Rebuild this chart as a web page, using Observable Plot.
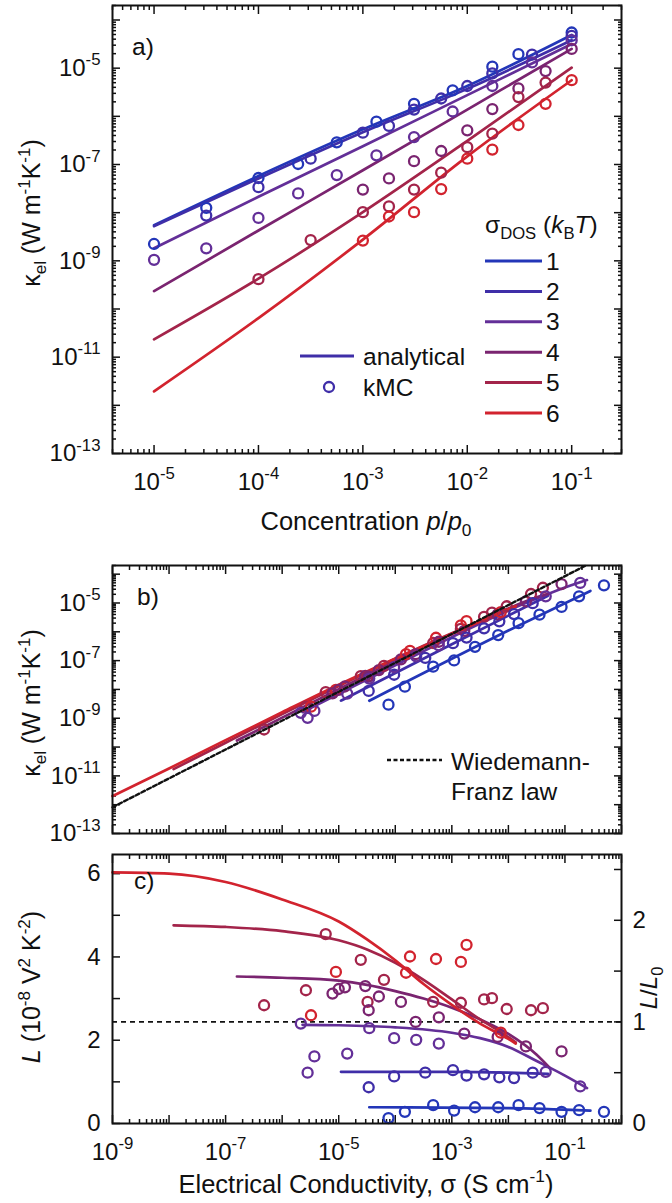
<!DOCTYPE html>
<html><head><meta charset="utf-8">
<script src="https://cdn.jsdelivr.net/npm/d3@7"></script>
<script src="https://cdn.jsdelivr.net/npm/@observablehq/plot@0.6"></script>
<style>
body{margin:0;background:#fff;}
#wrap{position:relative;width:672px;height:1203px;overflow:hidden;}
#wrap svg{position:absolute;left:0;}
</style></head><body><div id="wrap"></div>
<script>
const FONT = '"Liberation Sans", Arial, Helvetica, sans-serif';
const seriesIds = [1, 2, 3, 4, 5, 6];
const seriesColors = ["#2336b8", "#3f2ea8", "#632f98", "#7a2470", "#a3244a", "#d2232e"];

// ---------- panel a : kappa vs concentration ----------
const aLineLogP = [-5, -4, -3, -2, -1];
const aLineLogK = [
  [-8.26, -7.24, -6.27, -5.37, -4.31],
  [-8.28, -7.29, -6.33, -5.43, -4.42],
  [-8.74, -7.67, -6.62, -5.56, -4.50],
  [-9.63, -8.37, -7.12, -5.86, -4.60],
  [-10.63, -9.37, -7.99, -6.51, -4.99],
  [-11.71, -10.19, -8.56, -6.83, -5.25]
];
const aPtSeries = [1,1,1,1,1,1,1,1,1,1,1, 2,2,2,2,2,2,2,2,2,2,2, 3,3,3,3,3,3,3,3,3,3,3, 4,4,4,4,4,4,4,4,4, 5,5,5,5,5,5,5,5,5,5, 6,6,6,6,6,6,6,6,6];
const aPtLogP = [
  -5.0,-4.5,-4.0,-3.62,-3.25,-2.87,-2.51,-2.14,-1.76,-1.51,-1.0,
  -4.5,-4.0,-3.5,-3.0,-2.75,-2.51,-2.25,-2.0,-1.76,-1.38,-1.0,
  -5.0,-4.5,-4.0,-3.62,-3.25,-2.87,-2.51,-2.14,-1.76,-1.38,-1.0,
  -3.0,-2.75,-2.51,-2.25,-2.0,-1.76,-1.51,-1.25,-1.0,
  -4.0,-3.5,-3.0,-2.75,-2.51,-2.25,-2.0,-1.76,-1.51,-1.25,
  -3.0,-2.75,-2.51,-2.25,-2.0,-1.76,-1.51,-1.25,-1.0
];
const aPtLogK = [
  -8.65,-7.90,-7.28,-6.99,-6.54,-6.11,-5.74,-5.46,-4.97,-4.71,-4.26,
  -8.06,-7.47,-6.88,-6.34,-6.20,-5.86,-5.63,-5.37,-5.11,-4.72,-4.33,
  -8.98,-8.74,-8.11,-7.60,-7.22,-6.81,-6.43,-5.90,-5.37,-4.88,-4.42,
  -7.52,-7.29,-6.93,-6.72,-6.29,-5.85,-5.42,-5.06,-4.60,
  -9.38,-8.57,-7.99,-7.87,-7.52,-7.17,-6.64,-6.36,-5.60,-5.30,
  -8.58,-8.08,-7.99,-7.51,-6.88,-6.69,-6.18,-5.74,-5.25
];

// ---------- panels b and c : vs electrical conductivity ----------
const lineLogSigma = [
  [-4.46, -2, -0.55],
  [-4.96, -3, -2, -1.3],
  [-5.64, -5, -4, -3, -2.5, -2, -1.5, -1, -0.61],
  [-6.8, -6, -5, -4.5, -4, -3.5, -3, -2.5, -2, -1.5, -1.28],
  [-7.92, -7, -6, -5, -4.5, -4, -3.5, -3, -2.5, -2.14, -1.87],
  [-9, -8, -7, -6, -5, -4.5, -4, -3.5, -3, -2.5, -2, -1.87]
];
const cLineL = [
  [0.39, 0.37, 0.31],
  [1.24, 1.24, 1.22, 1.19],
  [2.37, 2.36, 2.31, 2.18, 2.05, 1.84, 1.5, 1.15, 0.85],
  [3.53, 3.5, 3.43, 3.33, 3.18, 3.0, 2.78, 2.5, 2.15, 1.65, 1.35],
  [4.76, 4.72, 4.62, 4.4, 4.18, 3.86, 3.45, 2.98, 2.5, 2.2, 1.95],
  [6.03, 6.0, 5.8, 5.38, 4.85, 4.42, 3.92, 3.35, 2.85, 2.4, 2.03, 1.92]
];
const bLineLogK = [
  [-8.392, -5.955, -4.582],
  [-8.39, -6.43, -5.437, -4.747],
  [-8.788, -8.15, -7.159, -6.185, -5.711, -5.258, -4.847, -4.462, -4.204],
  [-9.775, -8.979, -7.988, -7.501, -7.021, -6.546, -6.079, -5.625, -5.191, -4.806, -4.673],
  [-10.765, -9.849, -8.858, -7.88, -7.402, -6.936, -6.485, -6.049, -5.625, -5.321, -5.103],
  [-11.70, -10.745, -9.76, -8.792, -7.837, -7.378, -6.93, -6.498, -6.068, -5.643, -5.216, -5.11]
];
const kmcSeries = [5,5,6,3,3,3,5,6,4,4,4,3,5,4,5,4,3,2,4,5,1,2,3,4,6,1,6,4,3,2,5,1,6,4,3,2,1,6,5,4,2,6,1,5,2,5,4,2,1,6,5,2,1,4,5,2,1,5,3,4,1,1,3,1];
const kmcLogSigma = [-6.32,-5.58,-5.49,-5.67,-5.55,-5.43,-5.23,-5.05,-5.11,-5.0,-4.89,-4.85,-4.61,-4.53,-4.49,-4.47,-4.46,-4.47,-4.29,-4.2,-4.12,-4.02,-4.02,-3.9,-3.81,-3.83,-3.74,-3.64,-3.63,-3.47,-3.33,-3.33,-3.28,-3.23,-3.23,-2.98,-2.96,-2.84,-2.84,-2.78,-2.74,-2.74,-2.59,-2.43,-2.43,-2.29,-2.19,-2.16,-2.18,-2.135,-2.03,-1.9,-1.82,-1.69,-1.6,-1.57,-1.45,-1.39,-1.34,-1.06,-1.06,-0.75,-0.73,-0.31];
const kmcL = [2.84,3.20,2.60,2.40,1.22,1.61,4.55,3.64,3.12,3.23,3.27,1.68,3.93,3.30,2.92,2.72,2.29,0.87,3.05,3.45,0.13,1.13,2.05,2.92,3.62,0.28,4.01,2.44,2.01,1.22,2.92,0.44,3.95,2.55,1.92,1.28,0.31,3.88,2.90,2.16,1.15,4.29,0.39,2.98,1.18,3.01,2.08,1.11,0.39,2.18,2.75,1.09,0.44,1.85,2.72,1.22,0.37,2.77,1.24,1.73,0.28,0.32,0.89,0.28];
const kmcLogK = [-9.39,-8.598,-8.598,-8.813,-8.987,-8.746,-8.095,-8.012,-8.139,-8.014,-7.898,-8.148,-7.539,-7.534,-7.548,-7.558,-7.623,-8.053,-7.329,-7.185,-8.529,-7.49,-7.231,-6.958,-6.774,-7.906,-6.66,-6.776,-6.85,-6.907,-6.388,-7.21,-6.206,-6.346,-6.47,-6.396,-6.992,-5.774,-5.901,-5.969,-6.202,-5.631,-6.522,-5.479,-5.881,-5.334,-5.395,-5.638,-6.112,-5.32,-5.114,-5.386,-5.70,-4.946,-4.688,-5.007,-5.405,-4.471,-4.77,-4.345,-5.136,-4.768,-4.304,-4.386];
const wfLogSigma = [-9, -0.632];
const wfLogK = [-12.09, -3.70];
const L0 = 2.44;

// tick labels
const pLabelExp = [-5, -4, -3, -2, -1];
const kLabelExp = [-13, -11, -9, -7, -5];
const sLabelExp = [-9, -7, -5, -3, -1];
const lLeftTicks = [0, 1, 2, 3, 4, 5, 6];
const lLeftLabels = [0, 2, 4, 6];
const ratioTicks = [0, 0.5, 1, 1.5, 2, 2.5];
const ratioLabels = [0, 1, 2];

// ---------- helpers ----------
const TICK_FS = 24, TITLE_FS = 25.5, LEG_FS = 24.5;
const color = {type: "ordinal", domain: seriesIds, range: seriesColors};
function decades(lo, hi) { const out = []; for (let e = Math.round(Math.log10(lo)); e <= Math.round(Math.log10(hi)); e++) { const v = +("1e" + e); if (v >= lo * 0.999 && v <= hi * 1.001) out.push(v); } return out; }
function minors(lo, hi) { const out = []; for (let e = Math.floor(Math.log10(lo)) ; e <= Math.floor(Math.log10(hi)); e++) for (let k = 2; k <= 9; k++) { const v = +(k + "e" + e); if (v >= lo * 0.999 && v <= hi * 1.001) out.push(v); } return out; }
const expFmt = (set) => (d) => { const e = Math.round(Math.log10(d)); return set.includes(e) ? "10^" + e : ""; };
const none = () => "";
function boxAxes(o) {
  const base = {label: null, strokeWidth: 1.5, fontSize: TICK_FS};
  const m = [];
  m.push(Plot.axisX({...base, anchor: "bottom", ticks: o.xMajor, tickSize: -8, tickPadding: 27, tickFormat: o.xFmt || none}));
  if (o.xMinor) m.push(Plot.axisX({...base, anchor: "bottom", ticks: o.xMinor, tickSize: -4, tickFormat: none}));
  m.push(Plot.axisX({...base, anchor: "top", ticks: o.xMajor, tickSize: -8, tickFormat: none}));
  if (o.xMinor) m.push(Plot.axisX({...base, anchor: "top", ticks: o.xMinor, tickSize: -4, tickFormat: none}));
  m.push(Plot.axisY({...base, anchor: "left", ticks: o.yMajor, tickSize: -8, tickPadding: 20, tickFormat: o.yFmt || none}));
  if (o.yMinor) m.push(Plot.axisY({...base, anchor: "left", ticks: o.yMinor, tickSize: -4, tickFormat: none}));
  if (o.yRight !== false) {
    m.push(Plot.axisY({...base, anchor: "right", ticks: o.yMajor, tickSize: -8, tickFormat: none}));
    if (o.yMinor) m.push(Plot.axisY({...base, anchor: "right", ticks: o.yMinor, tickSize: -4, tickFormat: none}));
  }
  return m;
}
function supTicks(svg, size) {
  d3.select(svg).selectAll("text").each(function () {
    const m = /^10\^(-?\d+)$/.exec(this.textContent);
    if (!m) return;
    const t = d3.select(this); t.text(null);
    t.append("tspan").text("10");
    t.append("tspan").attr("dy", -0.44 * size).attr("font-size", size * 0.7).text(m[1]);
  });
}
function richText(svg, top, x, y, segs, opt = {}) {
  const size = opt.size || LEG_FS;
  const t = d3.select(svg).append("text").attr("font-size", size).attr("font-family", FONT)
    .attr("fill", "#111").attr("text-anchor", opt.anchor || "start");
  if (opt.rotate) t.attr("transform", `translate(${x},${y - top}) rotate(${opt.rotate})`);
  else t.attr("x", x).attr("y", y - top);
  let shift = 0;
  for (const s of segs) {
    const seg = typeof s === "string" ? {t: s} : s;
    const target = seg.sup ? -0.42 * size : seg.sub ? 0.24 * size : 0;
    const ts = t.append("tspan").text(seg.t);
    if (target !== shift) { ts.attr("dy", target - shift); shift = target; }
    if (seg.sup || seg.sub) ts.attr("font-size", size * 0.68);
    if (seg.it) ts.attr("font-style", "italic");
  }
  return t;
}
const wrap = document.getElementById("wrap");
function place(svg, top) { svg.style.top = top + "px"; svg.style.background = "transparent"; wrap.appendChild(svg); supTicks(svg, TICK_FS); return svg; }

// ---------- build tables ----------
const aLines = aLineLogK.flatMap((row, i) => row.map((k, j) => ({s: seriesIds[i], p: 10 ** aLineLogP[j], k: 10 ** k})));
const aPts = aPtSeries.map((s, i) => ({s, p: 10 ** aPtLogP[i], k: 10 ** aPtLogK[i]}));
const bLines = bLineLogK.flatMap((row, i) => row.map((k, j) => ({s: seriesIds[i], sg: 10 ** lineLogSigma[i][j], k: 10 ** k})));
const cLines = cLineL.flatMap((row, i) => row.map((L, j) => ({s: seriesIds[i], sg: 10 ** lineLogSigma[i][j], L})));
const kmc = kmcSeries.map((s, i) => ({s, sg: 10 ** kmcLogSigma[i], L: kmcL[i], k: 10 ** kmcLogK[i]}));
const wf = wfLogSigma.map((s, i) => ({sg: 10 ** s, k: 10 ** wfLogK[i]}));

const lineOpts = {stroke: "s", z: "s", strokeWidth: 2.7, curve: "monotone-x"};
const dotOpts = {stroke: "s", r: 5, strokeWidth: 2.3, fill: "none"};

// ---------- panel a ----------
const aX = [4e-6, 0.3], kY = [1e-13, 2e-4];
const svgA = Plot.plot({
  width: 672, height: 540, marginLeft: 112, marginRight: 51, marginTop: 5, marginBottom: 87,
  style: {fontFamily: FONT, color: "#111"},
  x: {type: "log", domain: aX}, y: {type: "log", domain: kY}, color,
  marks: [
    ...boxAxes({xMajor: decades(...aX), xMinor: minors(...aX), yMajor: decades(...kY), yMinor: minors(...kY), xFmt: expFmt(pLabelExp), yFmt: expFmt(kLabelExp)}),
    Plot.line(aLines, {x: "p", y: "k", ...lineOpts}),
    Plot.dot(aPts, {x: "p", y: "k", ...dotOpts}),
    Plot.frame({stroke: "#111", strokeWidth: 2})
  ]
});
place(svgA, 0);
richText(svgA, 0, 132, 55, ["a)"]);
richText(svgA, 0, 40, 213, ["κ", {t: "el", sub: 1}, " (W m", {t: "-1", sup: 1}, "K", {t: "-1", sup: 1}, ")"], {anchor: "middle", rotate: -90, size: 25});
richText(svgA, 0, 366, 530, ["Concentration ", {t: "p", it: 1}, "/", {t: "p", it: 1}, {t: "0", sub: 1}], {anchor: "middle", size: TITLE_FS});
// legend a
richText(svgA, 0, 485, 233, ["σ", {t: "DOS", sub: 1}, " (", {t: "k", it: 1}, {t: "B", sub: 1}, {t: "T", it: 1}, ")"]);
{
  const g = d3.select(svgA).append("g");
  seriesIds.forEach((s, i) => {
    const y = 261 + 30.4 * i;
    g.append("line").attr("x1", 485).attr("x2", 542).attr("y1", y).attr("y2", y).attr("stroke", seriesColors[i]).attr("stroke-width", 3);
    richText(svgA, 0, 546, y + 8.5, [String(s)]);
  });
  g.append("line").attr("x1", 300).attr("x2", 354).attr("y1", 356).attr("y2", 356).attr("stroke", seriesColors[1]).attr("stroke-width", 3);
  g.append("circle").attr("cx", 329).attr("cy", 387).attr("r", 5).attr("fill", "none").attr("stroke", seriesColors[1]).attr("stroke-width", 2.3);
  richText(svgA, 0, 363, 365, ["analytical"]);
  richText(svgA, 0, 363, 396, ["kMC"]);
}

// ---------- panel b ----------
const sX = [1e-9, 1];
const svgB = Plot.plot({
  width: 672, height: 310, marginLeft: 112, marginRight: 51, marginTop: 25, marginBottom: 17,
  style: {fontFamily: FONT, color: "#111"},
  x: {type: "log", domain: sX}, y: {type: "log", domain: kY}, color,
  marks: [
    ...boxAxes({xMajor: decades(...sX), xMinor: minors(...sX), yMajor: decades(...kY), yMinor: minors(...kY), yFmt: expFmt(kLabelExp)}),
    Plot.line(bLines, {x: "sg", y: "k", ...lineOpts}),
    Plot.dot(kmc, {x: "sg", y: "k", ...dotOpts}),
    Plot.line(wf, {x: "sg", y: "k", stroke: "#111", strokeWidth: 2.4, strokeDasharray: "4,2.5"}),
    Plot.frame({stroke: "#111", strokeWidth: 2})
  ]
});
place(svgB, 540);
richText(svgB, 540, 137, 605, ["b)"]);
richText(svgB, 540, 40, 703, ["κ", {t: "el", sub: 1}, " (W m", {t: "-1", sup: 1}, "K", {t: "-1", sup: 1}, ")"], {anchor: "middle", rotate: -90, size: 25});
d3.select(svgB).append("line").attr("x1", 387).attr("x2", 442).attr("y1", 760 - 540).attr("y2", 760 - 540)
  .attr("stroke", "#111").attr("stroke-width", 2.4).attr("stroke-dasharray", "4,2.5");
richText(svgB, 540, 451, 770, ["Wiedemann-"]);
richText(svgB, 540, 451, 800, ["Franz law"]);

// ---------- panel c ----------
const lY = [0, 6.46];
const svgC = Plot.plot({
  width: 672, height: 353, marginLeft: 112, marginRight: 51, marginTop: 4, marginBottom: 80,
  style: {fontFamily: FONT, color: "#111"},
  x: {type: "log", domain: sX}, y: {domain: lY}, color,
  marks: [
    ...boxAxes({xMajor: decades(...sX), xMinor: minors(...sX), yMajor: lLeftTicks, xFmt: expFmt(sLabelExp),
      yFmt: (d) => lLeftLabels.includes(d) ? String(d) : "", yRight: false}),
    Plot.axisY({anchor: "right", label: null, ticks: ratioTicks.map((r) => r * L0), tickSize: -8, tickPadding: 19, strokeWidth: 1.5, fontSize: TICK_FS,
      tickFormat: (d) => { const r = Math.round(d / L0 * 2) / 2; return ratioLabels.includes(r) ? String(r) : ""; }}),
    Plot.ruleY([L0], {stroke: "#111", strokeWidth: 1.6, strokeDasharray: "5,4"}),
    Plot.line(cLines, {x: "sg", y: "L", ...lineOpts}),
    Plot.dot(kmc, {x: "sg", y: "L", ...dotOpts}),
    Plot.frame({stroke: "#111", strokeWidth: 2})
  ]
});
place(svgC, 850);
richText(svgC, 850, 134, 889, ["c)"]);
richText(svgC, 850, 40, 987, [{t: "L", it: 1}, " (10", {t: "-8", sup: 1}, " V", {t: "2", sup: 1}, " K", {t: "-2", sup: 1}, ")"], {anchor: "middle", rotate: -90, size: 25});
richText(svgC, 850, 657, 988, [{t: "L", it: 1}, "/", {t: "L", it: 1}, {t: "0", sub: 1}], {anchor: "middle", rotate: -90, size: 24});
richText(svgC, 850, 366, 1193, ["Electrical Conductivity, σ (S cm", {t: "-1", sup: 1}, ")"], {anchor: "middle", size: TITLE_FS});
</script></body></html>
